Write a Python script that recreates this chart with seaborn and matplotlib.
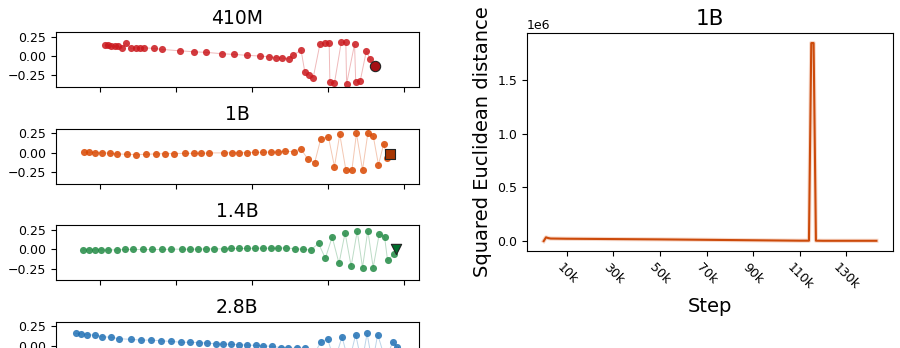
import numpy as np
import pandas as pd
import matplotlib
matplotlib.use("Agg")
import matplotlib.pyplot as plt
import seaborn as sns

# ── trajectory data (projected coordinates) ─────────────────────────────────
x_410m = [-1.93, -1.89, -1.85, -1.80, -1.76, -1.71, -1.66, -1.59, -1.53, -1.47,
          -1.42, -1.29, -1.18, -0.95, -0.76, -0.60, -0.39, -0.24, -0.06, 0.105,
          0.23, 0.32, 0.40, 0.49, 0.55, 0.65, 0.70, 0.75, 0.81, 0.90,
          0.96, 1.02, 1.03, 1.09, 1.18, 1.24, 1.25, 1.355, 1.37, 1.43,
          1.51, 1.56, 1.61, 1.63]
y_410m = [0.141, 0.137, 0.133, 0.128, 0.124, 0.098, 0.167, 0.098, 0.107, 0.107,
          0.107, 0.098, 0.085, 0.068, 0.055, 0.047, 0.030, 0.021, 0.009, 0.0,
          -0.009, -0.021, -0.026, -0.034, 0.013, 0.077, -0.21, -0.24, -0.28, 0.16,
          0.17, 0.17, -0.34, -0.35, 0.18, 0.175, -0.36, 0.154, -0.33, -0.32,
          0.064, -0.042, -0.128, -0.128]

x_1b = [-2.21, -2.14, -2.07, -1.97, -1.87, -1.77, -1.65, -1.52, -1.39, -1.26,
        -1.145, -1.03, -0.88, -0.76, -0.67, -0.56, -0.36, -0.26, -0.17, -0.057,
        0.048, 0.15, 0.25, 0.35, 0.44, 0.553, 0.645, 0.74, 0.83, 0.91,
        1.01, 1.09, 1.16, 1.24, 1.32, 1.38, 1.46, 1.53, 1.60, 1.67,
        1.74, 1.78, 1.82]
y_1b = [0.004, 0.004, 0.0, 0.0, -0.009, -0.017, -0.022, -0.026, -0.022, -0.017,
        -0.013, -0.013, -0.009, -0.009, -0.009, -0.004, -0.004, 0.0, 0.0, 0.0,
        0.004, 0.004, 0.009, 0.009, 0.017, 0.013, 0.051, -0.085, -0.128, 0.18,
        0.205, -0.18, 0.236, -0.222, -0.222, 0.248, -0.222, 0.248, 0.22, -0.158,
        0.115, -0.064, -0.013]

x_14b = [-2.22, -2.14, -2.07, -1.99, -1.89, -1.78, -1.67, -1.56, -1.43, -1.31,
         -1.18, -1.06, -0.925, -0.82, -0.71, -0.60, -0.50, -0.37, -0.27, -0.17,
         -0.057, 0.048, 0.15, 0.25, 0.35, 0.456, 0.566, 0.675, 0.776, 0.88,
         0.97, 1.06, 1.15, 1.23, 1.31, 1.39, 1.46, 1.53, 1.60, 1.68,
         1.75, 1.79, 1.87, 1.90]
y_14b = [-0.009, -0.009, -0.009, -0.009, -0.009, -0.009, -0.004, -0.004, -0.004, -0.004,
         -0.004, 0.0, 0.0, 0.0, 0.0, 0.004, 0.004, 0.004, 0.009, 0.009,
         0.009, 0.013, 0.013, 0.013, 0.013, 0.018, 0.004, 0.0, -0.013, 0.074,
         -0.118, 0.158, -0.184, 0.21, -0.22, 0.232, -0.237, 0.24, -0.237, 0.197,
         0.162, -0.145, -0.066, 0.0]

x_28b = [-2.32, -2.25, -2.17, -2.07, -1.97, -1.86, -1.75, -1.59, -1.46, -1.33,
         -1.19, -1.06, -0.93, -0.82, -0.70, -0.59, -0.47, -0.38, -0.28, -0.17,
         -0.06, 0.05, 0.15, 0.27, 0.38, 0.48, 0.59, 0.70, 0.80, 0.91,
         1.00, 1.09, 1.19, 1.28, 1.37, 1.45, 1.52, 1.59, 1.66, 1.76,
         1.86, 1.91, 1.93]
y_28b = [0.159, 0.155, 0.145, 0.136, 0.118, 0.109, 0.091, 0.082, 0.073, 0.073,
         0.064, 0.055, 0.045, 0.045, 0.041, 0.036, 0.023, 0.023, 0.018, 0.014,
         0.009, 0.005, 0.0, -0.009, -0.023, -0.032, -0.032, -0.032, -0.15, 0.049,
         0.088, -0.20, 0.115, -0.22, 0.145, -0.23, 0.158, -0.23, 0.145, -0.18,
         0.049, -0.017, -0.12]

models = ["410M", "1B", "1.4B", "2.8B"]
traj_x = [x_410m, x_1b, x_14b, x_28b]
traj_y = [y_410m, y_1b, y_14b, y_28b]
model_colors = ["#cb181d", "#d94801", "#238b45", "#2171b5"]
end_colors = ["#a50f15", "#a63603", "#006d2c", "#08519c"]
end_markers = ["o", "s", "v", "D"]

# ── squared Euclidean distance for 1B ──────────────────────────────
steps = [0, 1000, 2000, 3000, 10000, 30000, 50000, 70000, 90000, 110000,
         114000, 115000, 116000, 117000, 120000, 130000, 143000]
sq_dist = [0.0, 0.035e6, 0.028e6, 0.024e6, 0.022e6, 0.019e6, 0.016e6, 0.012e6,
           0.008e6, 0.004e6, 0.004e6, 1.845e6, 1.845e6, 0.004e6, 0.003e6,
           0.003e6, 0.003e6]
step_ticks = [10000, 30000, 50000, 70000, 90000, 110000, 130000]
step_labels = ["10k", "30k", "50k", "70k", "90k", "110k", "130k"]

fig = plt.figure(figsize=(9, 3.48), dpi=100)

# left column: four trajectory panels (the last one runs off the canvas)
left_axes = []
for i in range(4):
    bottom = 0.75 - i * 0.2775
    ax = fig.add_axes([0.0622, bottom, 0.403, 0.158])
    left_axes.append(ax)

for i, ax in enumerate(left_axes):
    df = pd.DataFrame({"x": traj_x[i], "y": traj_y[i]})
    c = model_colors[i]
    sns.lineplot(data=df, x="x", y="y", sort=False, ax=ax, color=c,
                 lw=0.7, alpha=0.3)
    sns.scatterplot(data=df.iloc[:-1], x="x", y="y", ax=ax, color=c,
                    s=26, alpha=0.85, linewidth=0)
    sns.scatterplot(data=df.iloc[-1:], x="x", y="y", ax=ax, color=end_colors[i],
                    marker=end_markers[i], s=55, edgecolor="#222222",
                    linewidth=0.8, zorder=5)
    ax.set_xlim(-2.58, 2.2)
    ax.set_ylim(-0.40, 0.31)
    ax.set_xticks([-2, -1, 0, 1, 2])
    ax.set_yticks([-0.25, 0.0, 0.25])
    ax.tick_params(axis="y", labelsize=9)
    ax.tick_params(labelbottom=False)
    ax.set_xlabel("")
    ax.set_ylabel("")
    ax.set_title(models[i], fontsize=13.5)

# right panel
ax_r = fig.add_axes([0.5856, 0.2787, 0.4067, 0.626])
dist_df = pd.DataFrame({"Step": steps, "dist": sq_dist})
sns.lineplot(data=dist_df, x="Step", y="dist", ax=ax_r, color="#d94801",
             lw=3.0, alpha=0.2)
sns.lineplot(data=dist_df, x="Step", y="dist", ax=ax_r, color="#cc4a0a", lw=1.5)
ax_r.set_xticks(step_ticks)
ax_r.set_xticklabels(step_labels, rotation=-45, ha="center", fontsize=9)
ax_r.tick_params(axis="y", labelsize=9)
ax_r.yaxis.get_offset_text().set_fontsize(9)
ax_r.set_title("1B", fontsize=15.5)
ax_r.set_xlabel("Step", fontsize=14)
ax_r.set_ylabel("Squared Euclidean distance", fontsize=14)

fig.savefig("out.png", dpi=100)
